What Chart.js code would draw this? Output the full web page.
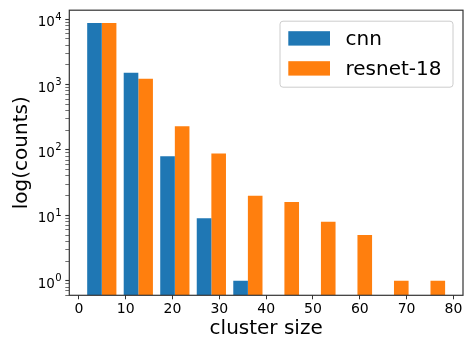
<!DOCTYPE html>
<html>
<head>
<meta charset="utf-8">
<script src="https://cdn.jsdelivr.net/npm/chart.js@4.4.0/dist/chart.umd.min.js"></script>
<style>
  html, body { margin: 0; padding: 0; background: #fff; }
  #wrap { width: 465px; height: 342px; }
</style>
</head>
<body>
<div id="wrap"><canvas id="histChart" width="465" height="342"></canvas></div>
<script>
// histogram bins (cluster size), 10 bins between 1 and 79
const binCenters = [4.9, 12.7, 20.5, 28.3, 36.1, 43.9, 51.7, 59.5, 67.3, 75.1];
const cnnCounts = [8700, 1520, 80, 9, 1, null, null, null, null, null];
const resnetCounts = [8700, 1230, 230, 88, 20, 16, 8, 5, 1, 1];
const seriesNames = ['cnn', 'resnet-18'];
const seriesColors = ['#1f77b4', '#ff7f0e'];
const xTickValues = [0, 10, 20, 30, 40, 50, 60, 70, 80];
const yTickPowers = [0, 1, 2, 3, 4];

const family = '"DejaVu Sans", sans-serif';

function toSeries(values) {
    return binCenters.map((x, i) => ({ x: x, y: values[i] }));
}

// frame, y labels with real superscripts, legend box
const framePlugin = {
    id: 'frame',
    afterDatasetsDraw(chart) {
        const { ctx, chartArea: a } = chart;
        ctx.save();
        ctx.strokeStyle = '#333';
        ctx.lineWidth = 1.2;
        ctx.strokeRect(a.left, a.top, a.right - a.left, a.bottom - a.top);
        ctx.restore();
    },
    afterDraw(chart) {
        const { ctx, chartArea: a } = chart;
        const yScale = chart.scales.y;

        // 10^n labels
        ctx.save();
        ctx.fillStyle = '#000';
        ctx.textAlign = 'right';
        ctx.textBaseline = 'alphabetic';
        yTickPowers.forEach(p => {
            const ty = yScale.getPixelForValue(Math.pow(10, p));
            const right = a.left - 7.8;
            ctx.font = '10px ' + family;
            const exp = String(p);
            const expW = ctx.measureText(exp).width;
            ctx.fillText(exp, right, ty + 0.5);
            ctx.font = '13.5px ' + family;
            ctx.fillText('10', right - expW - 0.3, ty + 7);
        });
        ctx.restore();

        // legend
        const w = 173, h = 66;
        const x0 = a.right - 10 - w, y0 = a.top + 11;
        ctx.save();
        ctx.beginPath();
        ctx.roundRect(x0, y0, w, h, 3);
        ctx.fillStyle = 'rgba(255,255,255,0.8)';
        ctx.fill();
        ctx.strokeStyle = '#cccccc';
        ctx.lineWidth = 1;
        ctx.stroke();
        ctx.font = '20px ' + family;
        ctx.textBaseline = 'middle';
        chart.data.datasets.forEach((ds, i) => {
            const cy = y0 + 17.2 + i * 30;
            ctx.fillStyle = ds.backgroundColor;
            ctx.fillRect(x0 + 8.3, cy - 7.2, 41.7, 14.4);
            ctx.fillStyle = '#000';
            ctx.fillText(ds.label, x0 + 65.5, cy + 1);
        });
        ctx.restore();
    }
};

const ctx = document.getElementById('histChart').getContext('2d');
const histChart = new Chart(ctx, {
    type: 'bar',
    data: {
        datasets: [
            {
                label: seriesNames[0],
                data: toSeries(cnnCounts),
                backgroundColor: seriesColors[0],
                borderWidth: 0,
                categoryPercentage: 0.8,
                barPercentage: 1.0
            },
            {
                label: seriesNames[1],
                data: toSeries(resnetCounts),
                backgroundColor: seriesColors[1],
                borderWidth: 0,
                categoryPercentage: 0.8,
                barPercentage: 1.0
            }
        ]
    },
    options: {
        responsive: false,
        animation: false,
        layout: { padding: { left: 0, right: 2, top: 7.5, bottom: 0 } },
        plugins: {
            legend: { display: false },
            tooltip: { enabled: false }
        },
        scales: {
            x: {
                type: 'linear',
                min: -2.04,
                max: 82.04,
                offset: false,
                border: { display: false },
                grid: {
                    display: true,
                    drawOnChartArea: false,
                    drawTicks: true,
                    tickLength: 4,
                    tickColor: '#333',
                    offset: false
                },
                afterBuildTicks: scale => {
                    scale.ticks = xTickValues.map(v => ({ value: v }));
                },
                ticks: {
                    color: '#000',
                    font: { family: family, size: 14 },
                    padding: 2,
                    maxRotation: 0,
                    autoSkip: false
                },
                title: {
                    display: true,
                    text: 'cluster size',
                    color: '#000',
                    font: { family: family, size: 20 },
                    padding: { top: 0, bottom: 1 }
                },
                afterFit: scale => { scale.height = 46.7; }
            },
            y: {
                type: 'logarithmic',
                min: 0.635,
                max: 13700,
                border: { display: false },
                grid: {
                    display: true,
                    drawOnChartArea: false,
                    drawTicks: true,
                    tickLength: 4,
                    tickColor: '#333',
                    tickWidth: c => (c.tick && c.tick.major ? 1.1 : 0.7)
                },
                afterBuildTicks: scale => {
                    const ticks = [];
                    for (let p = -1; p <= 4; p++) {
                        for (let k = 1; k <= 9; k++) {
                            const v = k * Math.pow(10, p);
                            if (v >= scale.min && v <= scale.max) {
                                ticks.push({ value: v, major: k === 1 && yTickPowers.includes(p) });
                            }
                        }
                    }
                    scale.ticks = ticks;
                },
                ticks: {
                    autoSkip: false,
                    callback: () => ''   // labels drawn by the frame plugin
                },
                title: {
                    display: true,
                    text: 'log(counts)',
                    color: '#000',
                    font: { family: family, size: 20 },
                    padding: { top: 10, bottom: 0 }
                },
                afterFit: scale => { scale.width = 69.3; }
            }
        }
    },
    plugins: [framePlugin]
});
</script>
</body>
</html>
